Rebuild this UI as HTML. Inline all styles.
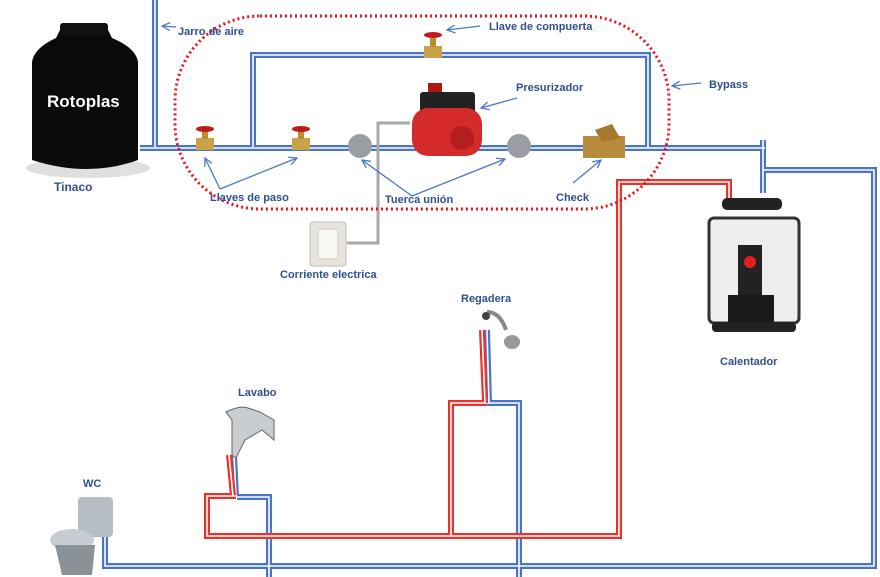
<!DOCTYPE html>
<html><head><meta charset="utf-8"><style>
html,body{margin:0;padding:0;background:#fff;}
svg{display:block;}
text{font-family:"Liberation Sans",sans-serif;font-weight:bold;font-size:11px;fill:#2f4f8f;}
</style></head><body>
<svg width="880" height="577" viewBox="0 0 880 577" xmlns="http://www.w3.org/2000/svg">
<defs>
<marker id="ar" markerWidth="10" markerHeight="10" refX="9" refY="5" orient="auto" markerUnits="userSpaceOnUse">
<path d="M1,1 L9,5 L1,9" fill="none" stroke="#4a78c8" stroke-width="1.3"/>
</marker>
</defs>
<g fill="none" stroke-linejoin="miter">
<g stroke="#4a74c4" stroke-width="6">
<path d="M155,0 V148"/>
<path d="M140,148 H765"/>
<path d="M253,148 V55 H648 V148"/>
<path d="M763,140 V193"/>
<path d="M763,170 H874 V566 H105 V535"/>
<path d="M237,497 H269 V577"/>
<path d="M486,403 H519 V577"/>
<path d="M487,330 L489,403"/>
<path d="M234,455 L236,497"/>
</g>
<g stroke="#fff" stroke-width="1.6">
<path d="M155,0 V148"/>
<path d="M140,148 H765"/>
<path d="M253,148 V55 H648 V148"/>
<path d="M763,140 V193"/>
<path d="M763,170 H874 V566 H105 V535"/>
<path d="M237,497 H269 V577"/>
<path d="M486,403 H519 V577"/>
<path d="M487,330 L489,403"/>
<path d="M234,455 L236,497"/>
</g>
<g stroke="#e8322c" stroke-width="6">
<path d="M729,200 V182 H619 V536 H207 V496 H236"/>
<path d="M451,536 V403 H486"/>
<path d="M482,330 L485,403"/>
<path d="M229,455 L233,496"/>
</g>
<g stroke="#fff" stroke-width="1.6">
<path d="M729,200 V182 H619 V536 H207 V496 H236"/>
<path d="M451,536 V403 H486"/>
<path d="M482,330 L485,403"/>
<path d="M229,455 L233,496"/>
</g>
<path d="M347,243 H378 V123 H410" stroke="#a8a8a8" stroke-width="3"/>
<rect x="175" y="16" width="494" height="193" rx="85" ry="85" stroke="#e8131b" stroke-width="3" stroke-dasharray="2 3"/>
</g>
<!-- tinaco -->
<ellipse cx="88" cy="168" rx="62" ry="10" fill="#ccc" opacity="0.6"/>
<path d="M60,30 H108 L112,38 Q136,48 138,62 V160 Q88,178 32,160 V62 Q34,48 56,38 Z" fill="#0a0a0a"/>
<rect x="60" y="23" width="48" height="12" rx="3" fill="#111"/>
<text x="47" y="107" style="fill:#fff;font-size:17px">Rotoplas</text>
<g>
<rect x="196" y="138" width="18" height="12" fill="#c9a24a"/><rect x="202" y="130" width="6" height="9" fill="#b8902e"/><ellipse cx="205" cy="129" rx="9" ry="3" fill="#c0181f"/>
<rect x="292" y="138" width="18" height="12" fill="#c9a24a"/><rect x="298" y="130" width="6" height="9" fill="#b8902e"/><ellipse cx="301" cy="129" rx="9" ry="3" fill="#c0181f"/>
<rect x="424" y="46" width="18" height="12" fill="#c9a24a"/><rect x="430" y="38" width="6" height="9" fill="#b8902e"/><ellipse cx="433" cy="35" rx="9" ry="3" fill="#c0181f"/>
</g>
<circle cx="360" cy="146" r="12" fill="#9a9ea4"/>
<circle cx="519" cy="146" r="12" fill="#9a9ea4"/>
<rect x="428" y="83" width="14" height="12" fill="#b01818"/>
<rect x="420" y="92" width="55" height="22" rx="3" fill="#222"/>
<rect x="412" y="108" width="70" height="48" rx="16" fill="#d42a2a"/>
<circle cx="462" cy="138" r="12" fill="#b31e1e"/>
<path d="M583,136 H625 V158 H583 Z" fill="#b98a3c"/><path d="M595,130 L612,124 L620,138 L602,142 Z" fill="#a4782e"/>
<rect x="310" y="222" width="36" height="44" rx="3" fill="#e8e4dc" stroke="#bbb"/>
<rect x="318" y="229" width="20" height="30" fill="#f8f8f2" stroke="#ccc"/>
<rect x="722" y="198" width="60" height="12" rx="5" fill="#222"/>
<rect x="709" y="218" width="90" height="105" rx="5" fill="#eee" stroke="#333" stroke-width="3"/>
<rect x="738" y="245" width="24" height="60" fill="#222"/>
<circle cx="750" cy="262" r="6" fill="#e02020"/>
<rect x="728" y="295" width="46" height="30" fill="#1a1a1a"/>
<rect x="712" y="322" width="84" height="10" rx="4" fill="#222"/>
<path d="M487,312 Q500,312 506,330" stroke="#888" stroke-width="4" fill="none"/>
<circle cx="486" cy="316" r="4" fill="#444"/>
<ellipse cx="512" cy="342" rx="8" ry="7" fill="#999"/>
<path d="M226,412 Q240,405 248,408 L260,412 L274,420 L274,440 L262,430 L245,440 L236,458 L232,455 L232,420 Z" fill="#c8cdd2" stroke="#666" stroke-width="1"/>
<rect x="78" y="497" width="35" height="40" rx="4" fill="#b5bdc4"/>
<ellipse cx="72" cy="540" rx="22" ry="11" fill="#c5ccd3"/>
<path d="M55,545 L95,545 L92,575 L62,575 Z" fill="#8a9298"/>
<text x="54" y="191" style="font-size:12px">Tinaco</text>
<text x="178" y="35">Jarro de aire</text>
<text x="489" y="30">Llave de compuerta</text>
<text x="516" y="91">Presurizador</text>
<text x="709" y="88">Bypass</text>
<text x="210" y="201">Llaves de paso</text>
<text x="385" y="203">Tuerca unión</text>
<text x="556" y="201">Check</text>
<text x="280" y="278">Corriente electrica</text>
<text x="461" y="302">Regadera</text>
<text x="720" y="365">Calentador</text>
<text x="238" y="396">Lavabo</text>
<text x="83" y="487">WC</text>
<g stroke="#4a78c8" stroke-width="1.3" fill="none">
<path d="M176,27 L162,26" marker-end="url(#ar)"/>
<path d="M480,26 L447,30" marker-end="url(#ar)"/>
<path d="M517,98 L481,108" marker-end="url(#ar)"/>
<path d="M701,83 L672,86" marker-end="url(#ar)"/>
<path d="M220,189 L205,158" marker-end="url(#ar)"/>
<path d="M220,189 L297,158" marker-end="url(#ar)"/>
<path d="M412,196 L362,160" marker-end="url(#ar)"/>
<path d="M412,196 L505,159" marker-end="url(#ar)"/>
<path d="M573,183 L601,160" marker-end="url(#ar)"/>
</g>
</svg>
</body></html>
